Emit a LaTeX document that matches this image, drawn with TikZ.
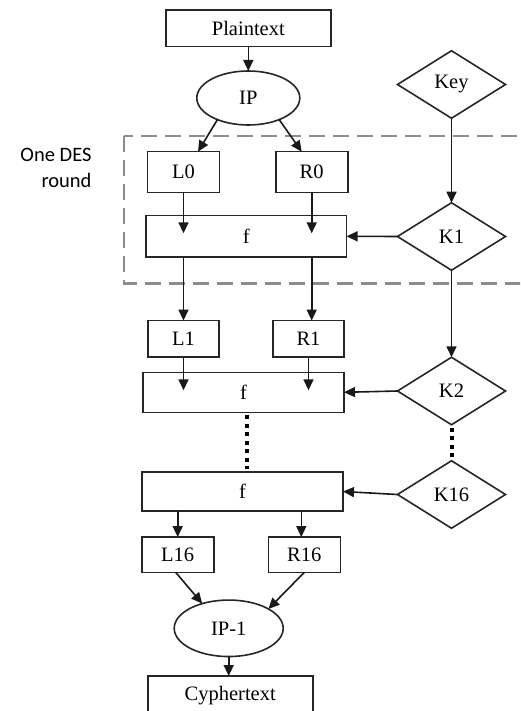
\documentclass[tikz,border=0pt]{standalone}
\usepackage{fontspec}
\setmainfont{Liberation Serif}
\newfontfamily\labelfont{Carlito}
\usetikzlibrary{shapes.geometric,arrows.meta}
\begin{document}
\begin{tikzpicture}[x=1pt,y=-1pt,
  every node/.style={font=\fontsize{20.5}{23}\selectfont, text=black, inner sep=0pt, outer sep=0pt},
  box/.style={draw=black!85, line width=1.6pt, rectangle},
  oval/.style={draw=black!85, line width=1.6pt, ellipse},
  keyd/.style={draw=black!85, line width=1.6pt, diamond, minimum width=108pt, minimum height=67.5pt},
  arr/.style={draw=black!90, line width=1.6pt, -{Triangle[length=11pt,width=10pt]}},
  dots/.style={draw=black, line width=4pt, dash pattern=on 4pt off 4.5pt},
  roundbox/.style={draw=black!45, line width=2.5pt, dash pattern=on 16pt off 8pt}
]
\useasboundingbox (0,0) rectangle (520,711);
\clip (0,0) rectangle (520,711);

% dashed frame for one round
\draw[roundbox] (124,136) rectangle (545,283.5);
\node[font=\labelfont\fontsize{20.5}{26.5}\selectfont, align=right, anchor=north east] (lbl) at (91.5,148) {One DES\\round};

% nodes
\node[box, minimum width=165pt, minimum height=36.5pt] (plain) at (248.3,28.3) {Plaintext};
\node[oval, minimum width=103pt, minimum height=54pt] (ip) at (248.3,98) {IP};
\node[keyd] (key) at (451.5,84.5) {Key};

\node[box, minimum width=72pt, minimum height=41pt] (L0) at (183.5,172.2) {L0};
\node[box, minimum width=72pt, minimum height=41pt] (R0) at (311.7,172.2) {R0};
\node[box, minimum width=200.5pt, minimum height=41.3pt] (f1) at (246.3,236.3) {f};
\node[keyd] (K1) at (451.5,236.5) {K1};

\node[box, minimum width=71.5pt, minimum height=36.5pt] (L1) at (183.5,338.8) {L1};
\node[box, minimum width=71.5pt, minimum height=36.5pt] (R1) at (308.5,338.8) {R1};
\node[box, minimum width=201pt, minimum height=40pt] (f2) at (243.5,392.3) {f};
\node[keyd] (K2) at (451.5,391) {K2};

\node[box, minimum width=201pt, minimum height=39.5pt] (f3) at (242.5,491.5) {f};
\node[keyd] (K16) at (451.5,494.5) {K16};

\node[box, minimum width=72pt, minimum height=35.3pt] (L16) at (177.7,554.7) {L16};
\node[box, minimum width=72pt, minimum height=35.3pt] (R16) at (304.3,554.7) {R16};
\node[oval, minimum width=109pt, minimum height=56.5pt] (ip1) at (228.7,628.3) {IP-1};
\node[box, minimum width=165pt, minimum height=40pt] (cy) at (230.2,696) {Cyphertext};

% connectors
\draw[arr] (plain.south) -- (ip.north);
\draw[arr] (ip.215) -- ([xshift=14.5pt]L0.north);
\draw[arr] (ip.-35) -- ([xshift=-10pt]R0.north);
\draw[arr] (key.south) -- (K1.north);
\draw[arr] (K1.south) -- (K2.north);

\draw[arr] (L0.south) -- ([yshift=3pt]L0.south |- f1.center);
\draw[arr] (R0.south) -- ([yshift=3pt]R0.south |- f1.center);
\draw[arr] (K1.west) -- (f1.east);

\draw[arr] (L0.south |- f1.south) -- (L1.north);
\draw[arr] (R0.south |- f1.south) -- (R0.south |- R1.north);

\draw[arr] (L1.south) -- ([yshift=2pt]L1.south |- f2.center);
\draw[arr] (R1.south) -- ([yshift=2pt]R1.south |- f2.center);
\draw[arr] (K2.west) -- (f2.east);

\draw[dots] ([xshift=3pt,yshift=-3pt]f2.south) -- ([xshift=3pt,yshift=3pt]f2.south |- f3.north);
\draw[dots] ([yshift=-3pt]K2.south) -- ([yshift=3pt]K16.north);

\draw[arr] (K16.west) -- (f3.east);
\draw[arr] (L16.north |- f3.south) -- (L16.north);
\draw[arr] ([xshift=-3pt]R16.north |- f3.south) -- ([xshift=-3pt]R16.north);

\draw[arr] ([xshift=-2pt]L16.south) -- (ip1.137);
\draw[arr] (R16.south) -- (ip1.26);
\draw[arr] (ip1.south) -- (ip1.south |- cy.north);
\end{tikzpicture}
\end{document}
